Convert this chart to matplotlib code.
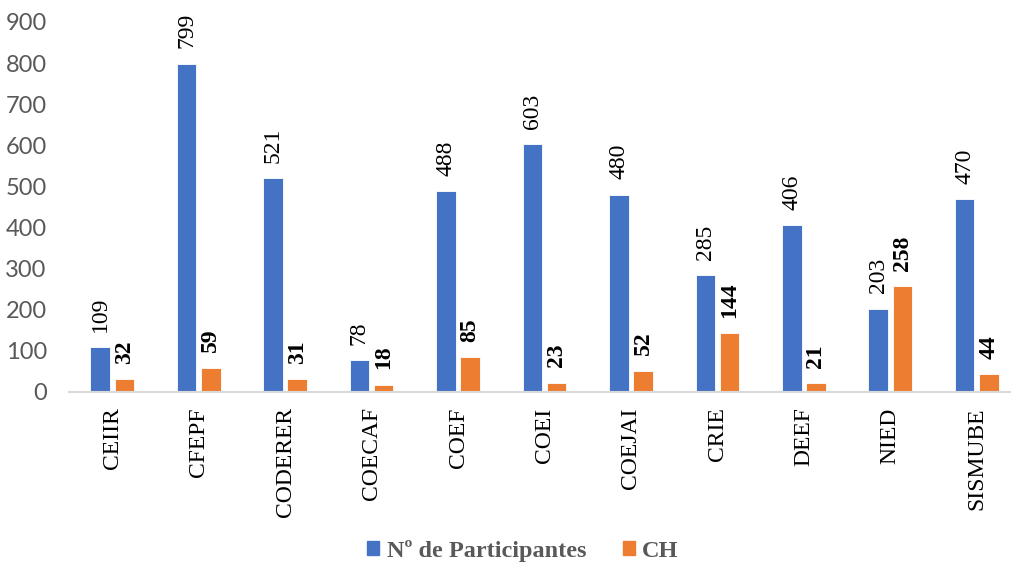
import matplotlib
matplotlib.use("Agg")
import matplotlib.pyplot as plt
import numpy as np
from matplotlib.patches import Patch

categories = ["CEIIR", "CFEPF", "CODERER", "COECAF", "COEF", "COEI",
              "COEJAI", "CRIE", "DEEF", "NIED", "SISMUBE"]
participantes = [109, 799, 521, 78, 488, 603, 480, 285, 406, 203, 470]
ch = [32, 59, 31, 18, 85, 23, 52, 144, 21, 258, 44]
yticks = [0, 100, 200, 300, 400, 500, 600, 700, 800, 900]

BLUE = "#4472C4"
ORANGE = "#ED7D31"
GRAY = "#595959"
SERIF = "Liberation Serif"

W, H = 1011, 563
fig = plt.figure(figsize=(W / 100, H / 100), dpi=100)
left, right, bottom, top = 69, 1020, 392, 22
ax = fig.add_axes([left / W, 1 - bottom / H, (right - left) / W, (bottom - top) / H])

x = np.arange(len(categories))
bw = 0.226
off = 0.14
ax.bar(x - off, participantes, bw, color=BLUE, edgecolor="white", linewidth=0.6)
ax.bar(x + off, ch, bw, color=ORANGE, edgecolor="white", linewidth=0.6)

for xi, v in zip(x, participantes):
    ax.annotate(str(v), (xi - off, v), xytext=(0, 11), textcoords="offset points",
                rotation=90, ha="center", va="bottom", fontsize=17,
                family=SERIF, color="black")
for xi, v in zip(x, ch):
    ax.annotate(str(v), (xi + off, v), xytext=(0, 11), textcoords="offset points",
                rotation=90, ha="center", va="bottom", fontsize=17,
                family=SERIF, color="black", fontweight="bold")

ax.set_xlim(-0.5, len(categories) - 0.5)
ax.set_ylim(0, 900)
ax.set_yticks(yticks)
ax.set_yticklabels([str(t) for t in yticks], family="Lato", fontsize=17, color=GRAY)
ax.set_xticks(x)
ax.set_xticklabels(categories, rotation=90, family=SERIF, fontsize=17, color="black",
                   va="top", ha="center")
ax.tick_params(axis="x", length=0, pad=11)
ax.tick_params(axis="y", length=0, pad=16)

for s in ["top", "right", "left"]:
    ax.spines[s].set_visible(False)
ax.spines["bottom"].set_color("#D9D9D9")
ax.spines["bottom"].set_linewidth(1.5)

handles = [Patch(color=BLUE, label="Nº de Participantes"),
           Patch(color=ORANGE, label="CH")]
fig.legend(handles=handles, loc="center", bbox_to_anchor=(523 / W, 1 - 551 / H),
           ncol=2, frameon=False, handlelength=0.5, handleheight=0.5,
           handletextpad=0.3, columnspacing=1.5,
           prop={"family": SERIF, "size": 17.5, "weight": "bold"}, labelcolor=GRAY)

fig.savefig("out.png", dpi=100)
